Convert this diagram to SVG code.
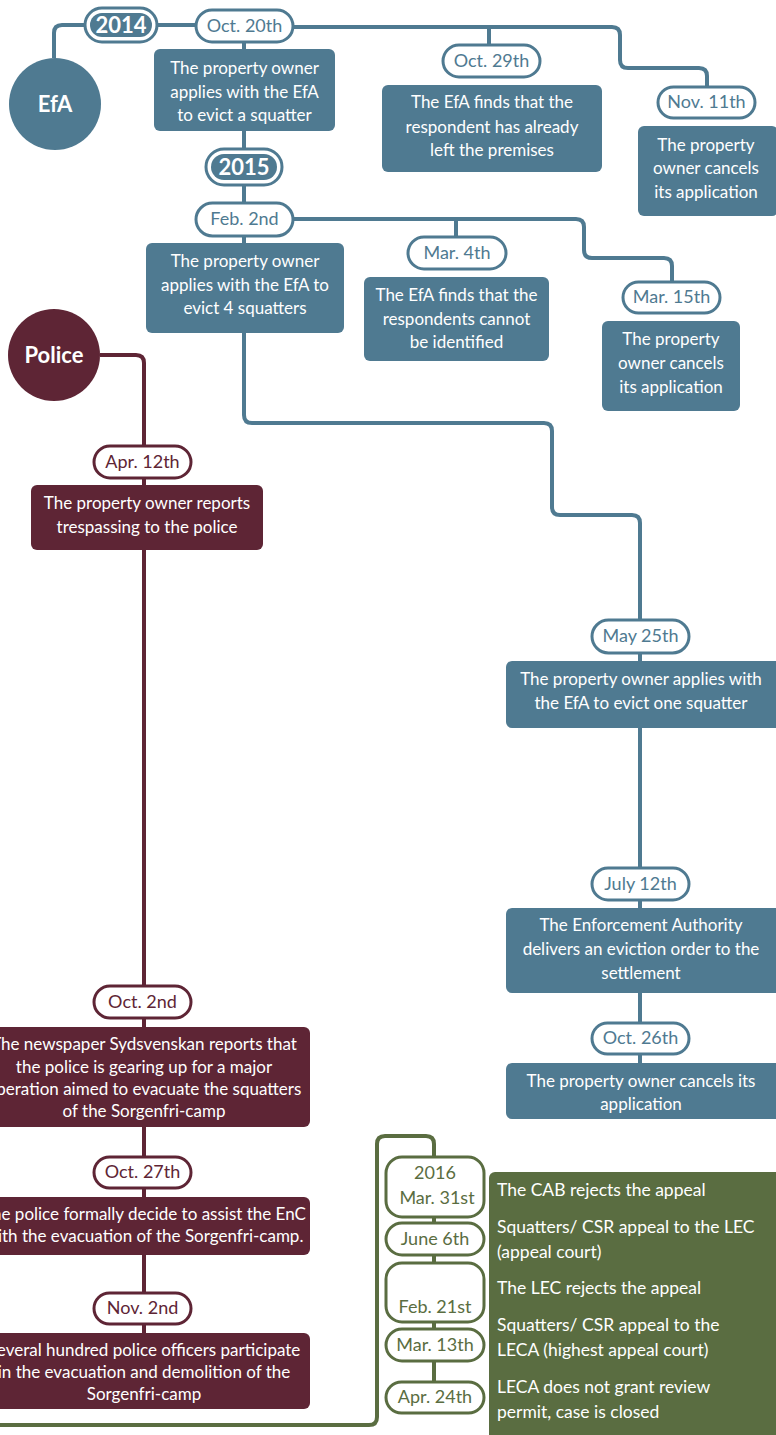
<svg xmlns="http://www.w3.org/2000/svg" width="776" height="1435" viewBox="0 0 776 1435">
<style>
text{font-family:Lato,"Noto Sans",sans-serif;text-anchor:middle}
.bl{fill:#4f7a91}.mr{fill:#5e2535}.gr{fill:#5a6d41}
.pb{fill:#fff;stroke:#4f7a91;stroke-width:3}
.pm{fill:#fff;stroke:#5e2535;stroke-width:3}
.pg{fill:#fff;stroke:#5a6d41;stroke-width:3}
.tw{fill:#fff;font-size:17px}
.tb{fill:#4f7a91;font-size:18px}
.tm{fill:#5e2535;font-size:18px}
.tg{fill:#5a6d41;font-size:18px}
.big{fill:#fff;font-size:22px;font-weight:bold}
.yr{fill:#fff;font-size:22px;font-weight:bold}
.lb{fill:none;stroke:#4f7a91;stroke-width:4}
.lm{fill:none;stroke:#5e2535;stroke-width:4}
.lg{fill:none;stroke:#5a6d41;stroke-width:4}
.gt{fill:#fff;font-size:17.5px;text-anchor:start}
</style>
<g id="connectors">
<path class="lb" d="M54,58 V33 Q54,25 62,25 H85 M157,25 H196 M244,42 V49 M244,131 V149 M244,185 V203 M244,236 V243"/>
<path class="lb" d="M293,27 H612 Q620,27 620,35 V60 Q620,68 628,68 H699 Q707,68 707,76 V87 M489,27 V45"/>
<path class="lb" d="M293,219 H576 Q584,219 584,227 V250 Q584,258 592,258 H664 Q672,258 672,266 V282 M456,219 V237"/>
<path class="lb" d="M244,333 V415 Q244,423 252,423 H544 Q552,423 552,431 V507 Q552,515 560,515 H632 Q640,515 640,523 V620 M640,653 V661 M640,728 V868 M640,900 V908 M640,993 V1023 M640,1054 V1063"/>
<path class="lm" d="M100,355 H136 Q144,355 144,363 V446 M144,478 V485 M144,550 V986 M144,1018 V1027 M144,1127 V1157 M144,1188 V1197 M144,1255 V1293 M144,1324 V1333"/>
<path class="lg" d="M0,1425 H369 Q377,1425 377,1417 V1144 Q377,1136 385,1136 H426 Q434,1136 434,1144 V1157 M434,1217 V1223 M434,1255 V1263 M434,1322 V1329 M434,1361 V1382"/>
</g>
<g id="efa"><circle class="bl" cx="55" cy="104" r="46"/><text class="big" x="55" y="112">EfA</text></g>
<g id="y2014"><rect class="pb" x="85" y="8" width="72" height="34" rx="17"/><rect class="bl" x="90" y="13" width="62" height="24" rx="12"/><text class="yr" x="121" y="33">2014</text></g>
<g id="oct20"><rect class="pb" x="196" y="10" width="97" height="32" rx="16"/><text class="tb" x="244.5" y="32">Oct. 20th</text></g>
<g id="box1"><rect class="bl" x="154" y="49" width="181" height="82" rx="6"/><text class="tw" x="244.5" y="74">The property owner</text><text class="tw" x="244.5" y="98">applies with the EfA</text><text class="tw" x="244.5" y="121">to evict a squatter</text></g>
<g id="oct29"><rect class="pb" x="443" y="45" width="97" height="32" rx="16"/><text class="tb" x="491.5" y="67">Oct. 29th</text></g>
<g id="box2"><rect class="bl" x="382" y="85" width="220" height="87" rx="6"/><text class="tw" x="492" y="108">The EfA finds that the</text><text class="tw" x="492" y="133">respondent has already</text><text class="tw" x="492" y="156">left the premises</text></g>
<g id="nov11"><rect class="pb" x="658" y="87" width="97" height="31" rx="15.5"/><text class="tb" x="706.5" y="108">Nov. 11th</text></g>
<g id="box3"><rect class="bl" x="638" y="126" width="140" height="90" rx="6"/><text class="tw" x="706" y="151">The property</text><text class="tw" x="706" y="174">owner cancels</text><text class="tw" x="706" y="198">its application</text></g>
<g id="y2015"><rect class="pb" x="206" y="149" width="76" height="36" rx="18"/><rect class="bl" x="211" y="154" width="66" height="26" rx="13"/><text class="yr" x="244" y="175">2015</text></g>
<g id="feb2"><rect class="pb" x="196" y="203" width="97" height="33" rx="16.5"/><text class="tb" x="244.5" y="225">Feb. 2nd</text></g>
<g id="box4"><rect class="bl" x="146" y="243" width="198" height="90" rx="6"/><text class="tw" x="245" y="267">The property owner</text><text class="tw" x="245" y="291">applies with the EfA to</text><text class="tw" x="245" y="314">evict 4 squatters</text></g>
<g id="mar4"><rect class="pb" x="408" y="237" width="98" height="32" rx="16"/><text class="tb" x="457" y="259">Mar. 4th</text></g>
<g id="box5"><rect class="bl" x="364" y="277" width="185" height="84" rx="6"/><text class="tw" x="456.5" y="301">The EfA finds that the</text><text class="tw" x="456.5" y="325">respondents cannot</text><text class="tw" x="456.5" y="348">be identified</text></g>
<g id="mar15"><rect class="pb" x="623" y="282" width="97" height="31" rx="15.5"/><text class="tb" x="671.5" y="303">Mar. 15th</text></g>
<g id="box6"><rect class="bl" x="602" y="321" width="138" height="90" rx="6"/><text class="tw" x="671" y="345">The property</text><text class="tw" x="671" y="369">owner cancels</text><text class="tw" x="671" y="393">its application</text></g>
<g id="may25"><rect class="pb" x="592" y="620" width="97" height="33" rx="16.5"/><text class="tb" x="640.5" y="642">May 25th</text></g>
<g id="box7"><rect class="bl" x="506" y="661" width="276" height="67" rx="6"/><text class="tw" x="641" y="685">The property owner applies with</text><text class="tw" x="641" y="709">the EfA to evict one squatter</text></g>
<g id="jul12"><rect class="pb" x="592" y="868" width="97" height="32" rx="16"/><text class="tb" x="640.5" y="890">July 12th</text></g>
<g id="box8"><rect class="bl" x="506" y="908" width="276" height="85" rx="6"/><text class="tw" x="641" y="931">The Enforcement Authority</text><text class="tw" x="641" y="955">delivers an eviction order to the</text><text class="tw" x="641" y="979">settlement</text></g>
<g id="oct26"><rect class="pb" x="592" y="1023" width="97" height="31" rx="15.5"/><text class="tb" x="640.5" y="1044">Oct. 26th</text></g>
<g id="box9"><rect class="bl" x="506" y="1063" width="276" height="56" rx="6"/><text class="tw" x="641" y="1087">The property owner cancels its</text><text class="tw" x="641" y="1110">application</text></g>
<g id="police"><circle class="mr" cx="54" cy="355" r="46"/><text class="big" x="54" y="363">Police</text></g>
<g id="apr12"><rect class="pm" x="94" y="446" width="97" height="32" rx="16"/><text class="tm" x="142.5" y="468">Apr. 12th</text></g>
<g id="pbox1"><rect class="mr" x="31" y="485" width="232" height="65" rx="6"/><text class="tw" x="147" y="509">The property owner reports</text><text class="tw" x="147" y="533">trespassing to the police</text></g>
<g id="oct2"><rect class="pm" x="94" y="986" width="97" height="32" rx="16"/><text class="tm" x="142.5" y="1008">Oct. 2nd</text></g>
<g id="pbox2"><rect class="mr" x="-22" y="1027" width="332" height="100" rx="6"/><text class="tw" x="144" y="1050">The newspaper Sydsvenskan reports that</text><text class="tw" x="144" y="1073">the police is gearing up for a major</text><text class="tw" x="144" y="1095">operation aimed to evacuate the squatters</text><text class="tw" x="144" y="1117">of the Sorgenfri-camp</text></g>
<g id="oct27"><rect class="pm" x="94" y="1157" width="97" height="31" rx="15.5"/><text class="tm" x="142.5" y="1178">Oct. 27th</text></g>
<g id="pbox3"><rect class="mr" x="-22" y="1197" width="332" height="58" rx="6"/><text class="tw" x="144" y="1220">The police formally decide to assist the EnC</text><text class="tw" x="144" y="1242">with the evacuation of the Sorgenfri-camp.</text></g>
<g id="nov2"><rect class="pm" x="94" y="1293" width="97" height="31" rx="15.5"/><text class="tm" x="142.5" y="1314">Nov. 2nd</text></g>
<g id="pbox4"><rect class="mr" x="-22" y="1333" width="332" height="76" rx="6"/><text class="tw" x="144" y="1356">Several hundred police officers participate</text><text class="tw" x="144" y="1378">in the evacuation and demolition of the</text><text class="tw" x="144" y="1400">Sorgenfri-camp</text></g>
<g id="gbox"><rect class="gr" x="489" y="1172" width="300" height="280" rx="6"/>
<text class="gt" x="497" y="1196">The CAB rejects the appeal</text>
<text class="gt" x="497" y="1233">Squatters/ CSR appeal to the LEC</text>
<text class="gt" x="497" y="1258">(appeal court)</text>
<text class="gt" x="497" y="1294">The LEC rejects the appeal</text>
<text class="gt" x="497" y="1331">Squatters/ CSR appeal to the</text>
<text class="gt" x="497" y="1356">LECA (highest appeal court)</text>
<text class="gt" x="497" y="1393">LECA does not grant review</text>
<text class="gt" x="497" y="1418">permit, case is closed</text></g>
<g id="g1"><rect class="pg" x="386" y="1157" width="98" height="60" rx="16"/><text class="tg" x="435" y="1179">2016</text><text class="tg" x="437" y="1204">Mar. 31st</text></g>
<g id="g2"><rect class="pg" x="386" y="1223" width="98" height="32" rx="16"/><text class="tg" x="435" y="1245">June 6th</text></g>
<g id="g3"><rect class="pg" x="386" y="1263" width="98" height="59" rx="16"/><text class="tg" x="435" y="1313">Feb. 21st</text></g>
<g id="g4"><rect class="pg" x="386" y="1329" width="98" height="32" rx="16"/><text class="tg" x="435" y="1351">Mar. 13th</text></g>
<g id="g5"><rect class="pg" x="386" y="1382" width="98" height="31" rx="15.5"/><text class="tg" x="435" y="1403">Apr. 24th</text></g>
</svg>
